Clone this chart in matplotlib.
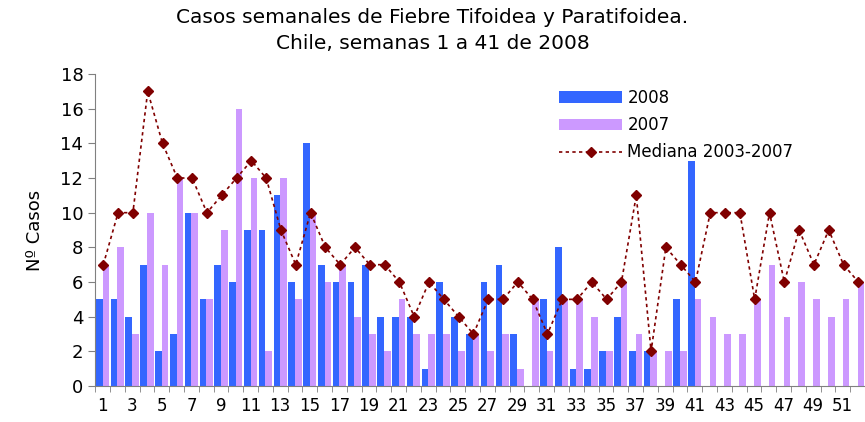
import matplotlib.pyplot as plt
import numpy as np

# weekly cases of typhoid / paratyphoid fever, Chile
semanas = np.arange(1, 53)
casos_2008 = [5, 5, 4, 7, 2, 3, 10, 5, 7, 6, 9, 9, 11, 6, 14, 7, 6, 6, 7, 4,
              4, 4, 1, 6, 4, 3, 6, 7, 3, 0, 5, 8, 1, 1, 2, 4, 2, 2, 0, 5, 13]
casos_2007 = [7, 8, 3, 10, 7, 12, 10, 5, 9, 16, 12, 2, 12, 5, 10, 6, 7, 4, 3, 2,
              5, 3, 3, 3, 2, 3, 2, 3, 1, 5, 2, 5, 5, 4, 2, 6, 3, 2, 2, 2,
              5, 4, 3, 3, 5, 7, 4, 6, 5, 4, 5, 6]
mediana = [7, 10, 10, 17, 14, 12, 12, 10, 11, 12, 13, 12, 9, 7, 10, 8, 7, 8, 7, 7,
           6, 4, 6, 5, 4, 3, 5, 5, 6, 5, 3, 5, 5, 6, 5, 6, 11, 2, 8, 7,
           6, 10, 10, 10, 5, 10, 6, 9, 7, 9, 7, 6]
etiquetas_x = [str(w) for w in range(1, 53, 2)]

fig = plt.figure(figsize=(8.65, 4.22), dpi=100)
ax = fig.add_axes([0.11, 0.0853, 0.89, 0.7393])

w = 0.45
x08 = semanas[:len(casos_2008)]
b1 = ax.bar(x08 - w, casos_2008, width=w, align='edge', color='#3366FF', label='2008')
b2 = ax.bar(semanas, casos_2007, width=w, align='edge', color='#CC99FF', label='2007')
l1, = ax.plot(semanas + 0.05, mediana, color='#800000', linestyle=(0, (2, 2)), linewidth=1.2,
              marker='D', markersize=5, label='Mediana 2003-2007')

ax.set_xlim(0.5, 52.5)
ax.set_ylim(0, 18)
ax.set_yticks(range(0, 19, 2))
ax.set_xticks(range(1, 53, 2))
ax.set_xticklabels(etiquetas_x)
ax.set_xticks(np.arange(0.5, 53, 1), minor=True)
ax.tick_params(axis='x', which='major', length=0, labelsize=12, pad=8)
ax.tick_params(axis='x', which='minor', length=4, color='#808080')
ax.tick_params(axis='y', length=5, color='#808080', labelsize=13)

for s in ['top', 'right']:
    ax.spines[s].set_visible(False)
for s in ['left', 'bottom']:
    ax.spines[s].set_color('#808080')

ax.set_ylabel('Nº Casos', fontsize=13, labelpad=12)
fig.suptitle('Casos semanales de Fiebre Tifoidea y Paratifoidea.\nChile, semanas 1 a 41 de 2008',
             x=0.5, y=0.98, fontsize=14.5, linespacing=1.45)

ax.legend([b1, b2, l1], ['2008', '2007', 'Mediana 2003-2007'],
          loc='upper left', bbox_to_anchor=(0.583, 1.0), frameon=False, fontsize=12,
          handlelength=3.8, labelspacing=0.55, handletextpad=0.3)

fig.savefig('out.png', dpi=100)
